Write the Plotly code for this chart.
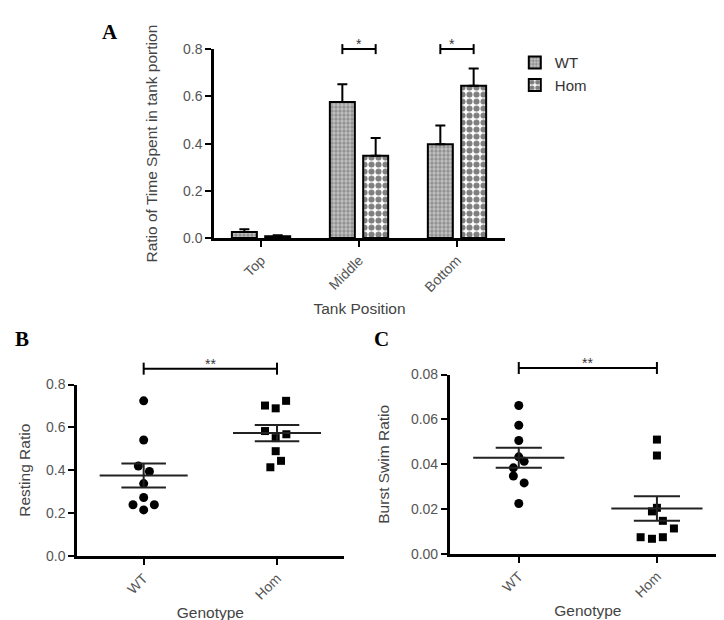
import numpy as np
import plotly.graph_objects as go

# ---------------- data ----------------
positions = ["Top", "Middle", "Bottom"]
wt_ratio = [0.026, 0.576, 0.397]
wt_sem = [0.011, 0.075, 0.080]
hom_ratio = [0.008, 0.349, 0.645]
hom_sem = [0.004, 0.075, 0.073]

genotypes = ["WT", "Hom"]
resting_wt = [0.724, 0.541, 0.420, 0.394, 0.338, 0.273, 0.239, 0.239, 0.215]
resting_hom = [0.724, 0.702, 0.689, 0.583, 0.568, 0.550, 0.489, 0.444, 0.414]
burst_wt = [0.0662, 0.0574, 0.0506, 0.0433, 0.0413, 0.0384, 0.0348, 0.0317, 0.0225]
burst_hom = [0.0510, 0.0439, 0.0206, 0.0190, 0.0148, 0.0114, 0.0075, 0.0068, 0.0075]

# horizontal scatter of points within a column (layout only)
jit_resting_wt = [0, 0, -0.04, 0.043, 0, 0, -0.08, 0.08, 0]
jit_resting_hom = [0.068, -0.09, -0.01, -0.09, 0.07, -0.01, -0.01, 0.03, -0.05]
jit_burst_wt = [0, 0, 0, 0, 0.039, -0.039, -0.039, 0.039, 0]
jit_burst_hom = [0, 0, 0, -0.036, 0.043, 0.123, -0.118, -0.036, 0.043]

# ---------------- layout helpers ----------------
W, H = 724, 620
FONT = "Liberation Sans, Arial, sans-serif"
TICKC = "#555555"
TITLEC = "#444444"

xr_a = [-0.48, 2.49]
xr_bc = [-0.5, 1.5]
yr_a = [0, 0.8]
yr_b = [0, 0.8]
yr_c = [0, 0.08]

fig = go.Figure()

# ---------------- panel A ----------------
fig.add_trace(go.Bar(
    x=positions, y=wt_ratio, name="WT", xaxis="x", yaxis="y",
    marker=dict(color="#c4c4c4", line=dict(color="black", width=2),
                pattern=dict(shape=".", fgcolor="#5e5e5e", bgcolor="#c4c4c4", size=4, solidity=0.55)),
    error_y=dict(type="data", array=wt_sem, arrayminus=[0] * 3, symmetric=False,
                 color="black", thickness=2, width=5),
))
fig.add_trace(go.Bar(
    x=positions, y=hom_ratio, name="Hom", xaxis="x", yaxis="y",
    marker=dict(color="white", line=dict(color="black", width=2),
                pattern=dict(shape=".", fgcolor="black", bgcolor="white", size=7, solidity=0.6)),
    error_y=dict(type="data", array=hom_sem, arrayminus=[0] * 3, symmetric=False,
                 color="black", thickness=2, width=5),
))


# ---------------- panels B and C ----------------
def add_dot_panel(vals_wt, vals_hom, jw, jh, xa, ya):
    fig.add_trace(go.Scatter(
        x=[0 + j for j in jw], y=vals_wt, mode="markers", xaxis=xa, yaxis=ya,
        marker=dict(symbol="circle", size=9, color="black"), showlegend=False, cliponaxis=False))
    fig.add_trace(go.Scatter(
        x=[1 + j for j in jh], y=vals_hom, mode="markers", xaxis=xa, yaxis=ya,
        marker=dict(symbol="square", size=8, color="black"), showlegend=False, cliponaxis=False))
    xs, ys = [], []
    for i, v in enumerate([vals_wt, vals_hom]):
        a = np.array(v)
        m = a.mean()
        s = a.std(ddof=1) / np.sqrt(len(a))
        xs += [i - 0.33, i + 0.33, None, i - 0.167, i + 0.167, None,
               i - 0.167, i + 0.167, None, i, i, None]
        ys += [m, m, None, m + s, m + s, None, m - s, m - s, None, m - s, m + s, None]
    fig.add_trace(go.Scatter(x=xs, y=ys, mode="lines", xaxis=xa, yaxis=ya,
                             line=dict(color="#222222", width=2), showlegend=False))


add_dot_panel(resting_wt, resting_hom, jit_resting_wt, jit_resting_hom, "x2", "y2")
add_dot_panel(burst_wt, burst_hom, jit_burst_wt, jit_burst_hom, "x3", "y3")

# ---------------- significance brackets ----------------
shapes = []
annotations = []


def bracket(x0, x1, yv, xr, yr, xn, yn, text, cap=6):
    fx = lambda v: (v - xr[0]) / (xr[1] - xr[0])
    fy = (yv - yr[0]) / (yr[1] - yr[0])
    ln = dict(color="black", width=2)
    shapes.append(dict(type="line", xref=f"{xn} domain", yref=f"{yn} domain",
                       x0=fx(x0), x1=fx(x1), y0=fy, y1=fy, line=ln))
    for xv in (x0, x1):
        shapes.append(dict(type="line", xref=f"{xn} domain", yref=f"{yn} domain",
                           ysizemode="pixel", yanchor=fy, y0=-cap, y1=cap,
                           x0=fx(xv), x1=fx(xv), line=ln))
    annotations.append(dict(text=text, xref=f"{xn} domain", yref=f"{yn} domain",
                            x=fx((x0 + x1) / 2), y=fy, yanchor="middle", yshift=5,
                            showarrow=False, font=dict(size=14, color="#333", family=FONT)))


bracket(0.83, 1.17, 0.8, xr_a, yr_a, "x", "y", "*", cap=5)
bracket(1.83, 2.17, 0.8, xr_a, yr_a, "x", "y", "*", cap=5)
bracket(0, 1, 0.874, xr_bc, yr_b, "x2", "y2", "**")
bracket(0, 1, 0.0829, xr_bc, yr_c, "x3", "y3", "**")

# panel letters
for letter, px, py in [("A", 102, 16), ("B", 14, 332), ("C", 373, 332)]:
    annotations.append(dict(text=f"<b>{letter}</b>", xref="paper", yref="paper",
                            x=px / W, y=1 - py / H, xanchor="center", yanchor="middle",
                            showarrow=False,
                            font=dict(size=21, color="black", family="Liberation Serif, serif")))

# ---------------- axes ----------------
common = dict(showline=True, linecolor="black", linewidth=2.5, ticks="outside",
              ticklen=6, tickwidth=2, tickcolor="black", showgrid=False, zeroline=False,
              tickfont=dict(size=14, color=TICKC, family=FONT))


def ttl(t, standoff):
    return dict(text=t, font=dict(size=15.5, color=TITLEC, family=FONT), standoff=standoff)


fig.update_layout(
    width=W, height=H, margin=dict(l=0, r=0, t=0, b=0),
    paper_bgcolor="white", plot_bgcolor="white",
    barmode="group", bargap=0.32, bargroupgap=0.25,
    font=dict(family=FONT),
    xaxis=dict(domain=[206 / W, 497 / W], anchor="y", range=xr_a, tickangle=-45,
               title=ttl("Tank Position", 10), **common),
    yaxis=dict(domain=[1 - 228 / H, 1 - 34 / H], anchor="x", range=yr_a,
               tickvals=[0, 0.2, 0.4, 0.6, 0.8], tickformat=".1f",
               title=ttl("Ratio of Time Spent in tank portion", 22), **common),
    xaxis2=dict(domain=[69 / W, 335.7 / W], anchor="y2", range=xr_bc, tickangle=-45,
                tickvals=[0, 1], ticktext=genotypes, title=ttl("Genotype", 6), **common),
    yaxis2=dict(domain=[1 - 554.3 / H, 1 - 378.3 / H], anchor="x2", range=yr_b,
                tickvals=[0, 0.2, 0.4, 0.6, 0.8], tickformat=".1f",
                title=ttl("Resting Ratio", 12), **common),
    xaxis3=dict(domain=[441.7 / W, 718 / W], anchor="y3", range=xr_bc, tickangle=-45,
                tickvals=[0, 1], ticktext=genotypes, title=ttl("Genotype", 6), **common),
    yaxis3=dict(domain=[1 - 552.3 / H, 1 - 368 / H], anchor="x3", range=yr_c,
                tickvals=[0, 0.02, 0.04, 0.06, 0.08], tickformat=".2f",
                title=ttl("Burst Swim Ratio", 18), **common),
    legend=dict(x=0.700, y=0.950, xanchor="left", yanchor="top",
                font=dict(size=15, color="#333", family=FONT),
                bgcolor="rgba(0,0,0,0)", tracegroupgap=4),
    shapes=shapes, annotations=annotations,
)

fig.write_html("out.html")
